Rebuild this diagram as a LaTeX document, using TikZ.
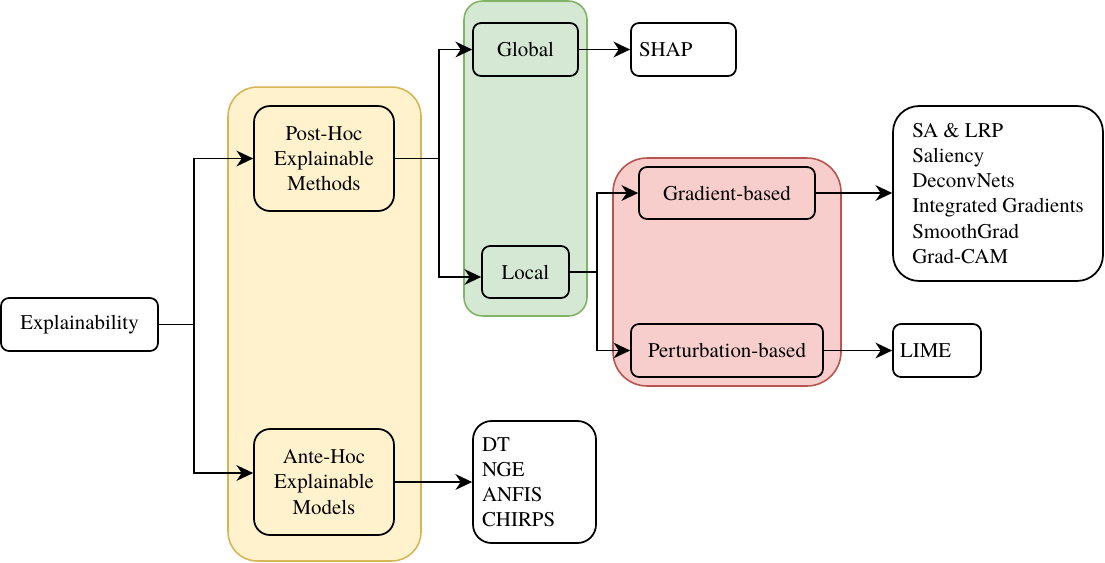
\documentclass[tikz,border=0pt]{standalone}
\usepackage{fontspec}
\setmainfont{TeX Gyre Termes}
\usepackage{tikz}
\usetikzlibrary{arrows.meta}
\definecolor{hocfill}{HTML}{FFF2CC}
\definecolor{hocline}{HTML}{D6B656}
\definecolor{scopefill}{HTML}{D5E8D4}
\definecolor{scopeline}{HTML}{82B366}
\definecolor{localfill}{HTML}{F8CECC}
\definecolor{localline}{HTML}{B85450}

\begin{document}
\begin{tikzpicture}[x=0.02cm,y=-0.02cm]
 \tikzset{
  box/.style={draw,line width=1pt,rounded corners=0.16cm,align=center,
   inner sep=0pt,font=\rmfamily\fontsize{11.9}{14.3}\selectfont},
  listbox/.style={box,align=left,inner ysep=0pt},
  group/.style={line width=0.9pt,inner sep=0pt},
  arr/.style={line width=1pt,-{Stealth[length=9.5pt,width=9pt,inset=3pt]}}}
 \useasboundingbox (0,0) rectangle (1105,562);
 \node[group,draw=hocline,fill=hocfill,rounded corners=0.58cm,
  minimum width=3.86cm,minimum height=9.48cm](hocgroup) at (324.5,324){};
 \node[group,draw=scopeline,fill=scopefill,rounded corners=0.37cm,
  minimum width=2.46cm,minimum height=6.3cm](scopegroup) at (525.5,158.5){};
 \node[group,draw=localline,fill=localfill,rounded corners=0.68cm,
  minimum width=4.56cm,minimum height=4.56cm](localgroup) at (727,272){};
 \node[box,minimum width=3.14cm,minimum height=1.06cm](expl) at (79.5,324.5){Explainability};
 \node[box,rounded corners=0.32cm,minimum width=2.8cm,minimum height=2.1cm](post)
  at (324,158.5){Post-Hoc\\Explainable\\Methods};
 \node[box,rounded corners=0.32cm,minimum width=2.8cm,minimum height=2.12cm](ante)
  at (324,482){Ante-Hoc\\Explainable\\Models};
 \node[box,minimum width=2.1cm,minimum height=1.06cm](global) at (525.5,49.5){Global};
 \node[box,minimum width=1.74cm,minimum height=1.04cm](local) at (525.5,272){Local};
 \node[listbox,inner xsep=0.16cm,text width=1.78cm,minimum height=1.06cm](shap)
  at (683.5,49.5){SHAP};
 \node[box,minimum width=3.52cm,minimum height=1.04cm](grad) at (727,193){Gradient-based};
 \node[box,minimum width=3.84cm,minimum height=1.06cm](pert) at (727,350.5){Perturbation-based};
 \node[listbox,rounded corners=0.52cm,minimum width=4.2cm,minimum height=3.5cm](gradlist)
  at (998,193.5){SA \& LRP\\Saliency\\DeconvNets\\Integrated Gradients\\SmoothGrad\\Grad-CAM};
 \node[listbox,inner xsep=0.14cm,text width=1.48cm,minimum height=1.06cm](lime)
  at (937,350.5){LIME};
 \node[listbox,rounded corners=0.37cm,inner xsep=0.18cm,text width=2.1cm,minimum height=2.44cm](models)
  at (534.5,482){DT\\NGE\\ANFIS\\CHIRPS};
 \draw[arr](expl.east)-- ++(35,0)|-(post.west);
 \draw[arr](expl.east)-- ++(35,0)|-([yshift=0.18cm]ante.west);
 \draw[arr](post.east)-- ++(44,0)|-(global.west);
 \draw[arr](post.east)-- ++(44,0)|-([yshift=-0.1cm]local.west);
 \draw[arr](global.east)--(shap.west);
 \draw[arr](local.east)-- ++(27,0)|-(grad.west);
 \draw[arr](local.east)-- ++(27,0)|-(pert.west);
 \draw[arr](grad.east)--(gradlist.west|-grad.east);
 \draw[arr](pert.east)--(lime.west|-pert.east);
 \draw[arr](ante.east)--(models.west);
\end{tikzpicture}
\end{document}
